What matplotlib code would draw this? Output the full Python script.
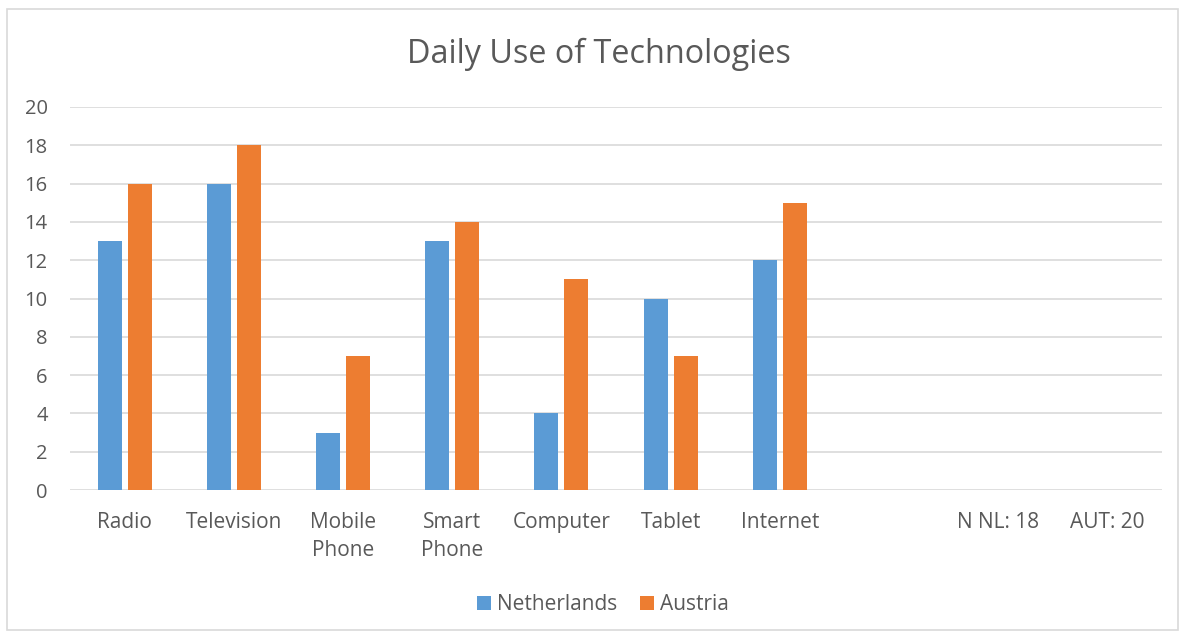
import matplotlib
matplotlib.use("Agg")
import matplotlib.pyplot as plt
from matplotlib.patches import Rectangle
import numpy as np

categories = ["Radio", "Television", "Mobile\nPhone", "Smart\nPhone", "Computer",
              "Tablet", "Internet", "", "N NL: 18", "AUT: 20"]
netherlands = [13, 16, 3, 13, 4, 10, 12]
austria = [16, 18, 7, 14, 11, 7, 15]
yticks = [0, 2, 4, 6, 8, 10, 12, 14, 16, 18, 20]

BLUE = "#5B9BD5"
ORANGE = "#ED7D31"
GRID = "#D9D9D9"
TEXT = "#595959"

plt.rcParams["font.family"] = ["Open Sans", "DejaVu Sans"]

fig = plt.figure(figsize=(11.85, 6.37), dpi=100)
ax = fig.add_axes([70 / 1185, 1 - 490 / 637, 1092 / 1185, 383 / 637])

# Chart frame
fig.patches.append(Rectangle((7 / 1185, 1 - 630 / 637), 1171 / 1185, 621 / 637,
                             transform=fig.transFigure, fill=False,
                             edgecolor=GRID, linewidth=1.2))

x = np.arange(len(categories))
w = 0.22
off = 0.1376
n = len(netherlands)
ax.bar(x[:n] - off, netherlands, w, color=BLUE, label="Netherlands", zorder=3)
ax.bar(x[:n] + off, austria, w, color=ORANGE, label="Austria", zorder=3)

ax.set_xlim(-0.5, len(categories) - 0.5)
ax.set_ylim(0, 20)
ax.set_yticks(yticks)
ax.set_xticks(x)
ax.set_xticklabels(categories)
ax.yaxis.grid(True, color=GRID, linewidth=1.2, zorder=0)
ax.set_axisbelow(True)
for s in ax.spines.values():
    s.set_visible(False)
ax.tick_params(axis="both", length=0, labelcolor=TEXT)
ax.tick_params(axis="y", pad=16, labelsize=14.5)
ax.tick_params(axis="x", pad=16, labelsize=15)
for lbl in ax.get_xticklabels():
    lbl.set_linespacing(1.45)
    lbl.set_verticalalignment("top")

fig.text(599 / 1185, 1 - 54 / 637, "Daily Use of Technologies", ha="center",
         va="center", fontsize=23.3, color=TEXT)

leg = fig.legend(loc="center", bbox_to_anchor=(603 / 1185, 1 - 605 / 637), ncol=2,
                 frameon=False, fontsize=15, handlelength=0.65, handleheight=0.65,
                 handletextpad=0.3, columnspacing=1.1)
for t in leg.get_texts():
    t.set_color(TEXT)

fig.savefig("out.png", dpi=100)
